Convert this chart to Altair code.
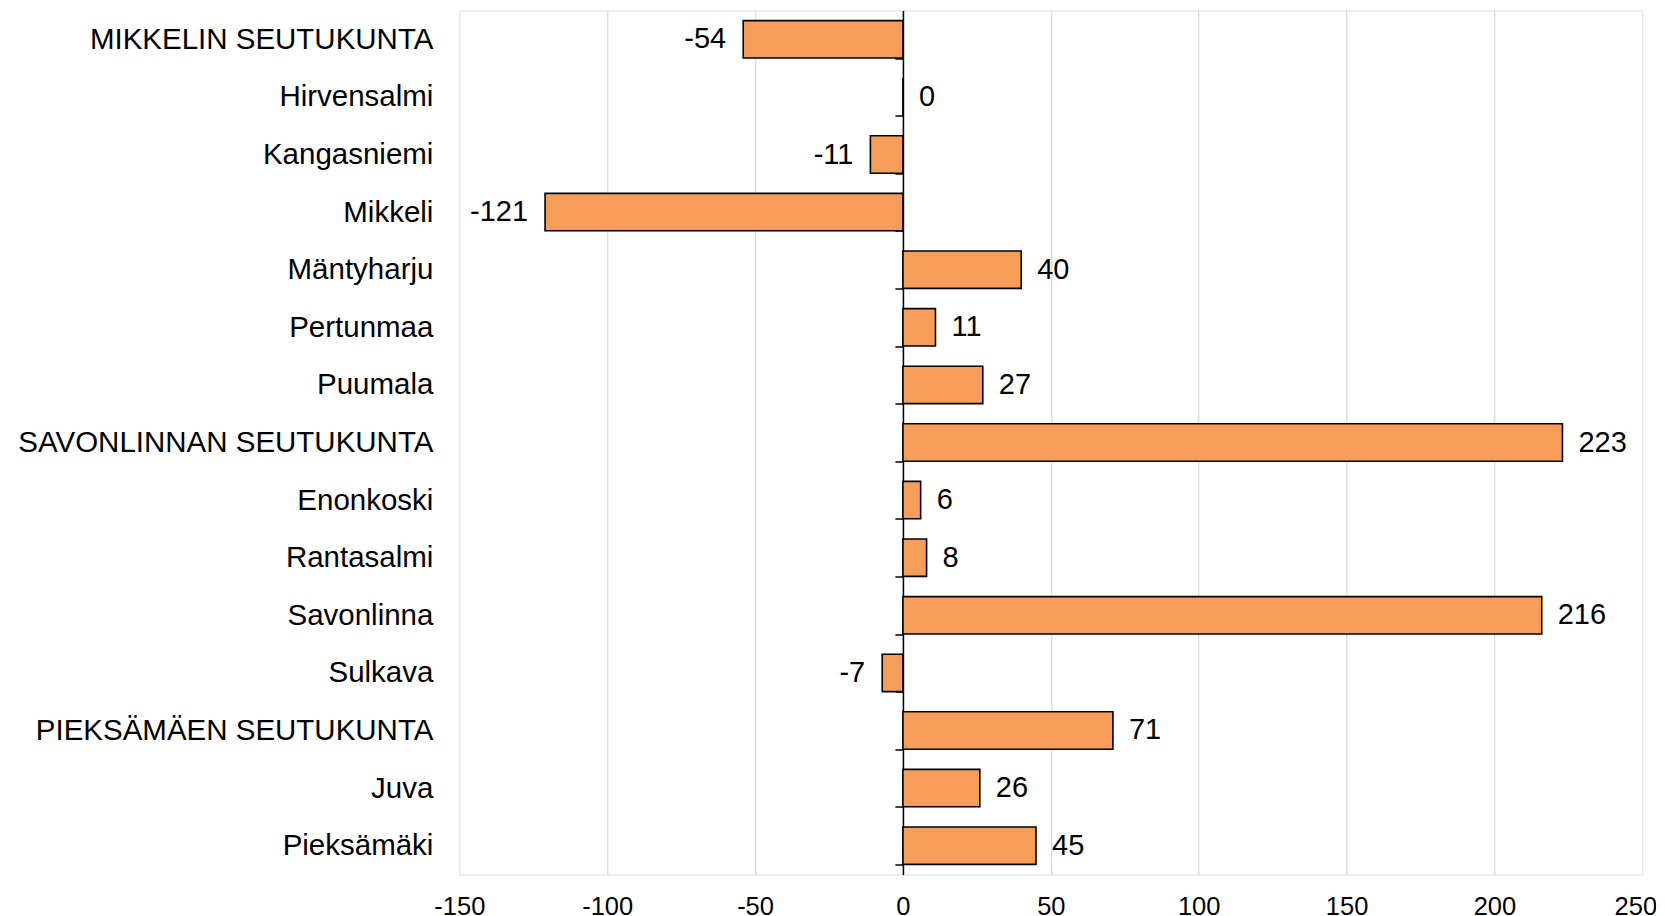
import altair as alt
import pandas as pd

categories = [
    "MIKKELIN SEUTUKUNTA", "Hirvensalmi", "Kangasniemi", "Mikkeli", "Mäntyharju",
    "Pertunmaa", "Puumala", "SAVONLINNAN SEUTUKUNTA", "Enonkoski", "Rantasalmi",
    "Savonlinna", "Sulkava", "PIEKSÄMÄEN SEUTUKUNTA", "Juva", "Pieksämäki",
]
values = [-54, 0, -11, -121, 40, 11, 27, 223, 6, 8, 216, -7, 71, 26, 45]
x_ticks = [-150, -100, -50, 0, 50, 100, 150, 200, 250]
grid_ticks = [-100, -50, 0, 50, 100, 150, 200]

df = pd.DataFrame({"alue": categories, "arvo": values})

FONT = "Liberation Sans"
FS_Y = 29.5
FS = 29
FS_X = 25.5

W = 1183
H = 864
X0 = 443.6  # pixel distance from left frame to zero

y_enc = alt.Y(
    "alue:N",
    sort=categories,
    title=None,
    scale=alt.Scale(paddingInner=0.35, paddingOuter=0.175),
    axis=alt.Axis(
        orient="left",
        offset=-X0,
        domain=True,
        domainColor="#000000",
        domainWidth=1.5,
        ticks=True,
        tickBand="extent",
        tickColor="#000000",
        tickWidth=1.5,
        tickSize=8,
        labelPadding=462,
        labelFont=FONT,
        labelFontSize=FS_Y,
        labelColor="#000000",
        labelLimit=0,
        grid=False,
    ),
)

x_scale = alt.Scale(domain=[-150, 250], nice=False, zero=False)

x_axis_labels = alt.Axis(
    orient="bottom",
    values=x_ticks,
    grid=False,
    domain=False,
    ticks=False,
    labelPadding=20,
    labelFont=FONT,
    labelFontSize=FS_X,
    labelColor="#000000",
    labelFlush=False,
    labelOffset={"condition": {"test": "datum.value === 250", "value": -7}, "value": 0},
    labelExpr="'' + datum.value",
    title=None,
)

x_axis_grid = alt.Axis(
    orient="top",
    values=grid_ticks,
    grid=True,
    gridColor="#d0d0d0",
    gridWidth=1,
    domain=False,
    ticks=False,
    labels=False,
    title=None,
)

grid_layer = alt.Chart(df).mark_bar(opacity=0).encode(
    x=alt.X("arvo:Q", scale=x_scale, axis=x_axis_grid),
    y=alt.Y("alue:N", sort=categories),
)

bars = alt.Chart(df).mark_bar(
    color="#F79D5A", stroke="#000000", strokeWidth=1.6
).encode(
    x=alt.X("arvo:Q", scale=x_scale, axis=x_axis_labels),
    y=y_enc,
)

pos_labels = alt.Chart(df).transform_filter("datum.arvo >= 0").transform_calculate(
    lbl="'' + datum.arvo"
).mark_text(
    align="left", baseline="middle", dx=16, font=FONT, fontSize=FS, color="#000000"
).encode(
    x=alt.X("arvo:Q", scale=x_scale, axis=None),
    y=alt.Y("alue:N", sort=categories),
    text=alt.Text("lbl:N"),
)

neg_labels = alt.Chart(df).transform_filter("datum.arvo < 0").transform_calculate(
    lbl="'' + datum.arvo"
).mark_text(
    align="right", baseline="middle", dx=-17, font=FONT, fontSize=FS, color="#000000"
).encode(
    x=alt.X("arvo:Q", scale=x_scale, axis=None),
    y=alt.Y("alue:N", sort=categories),
    text=alt.Text("lbl:N"),
)

chart = alt.layer(grid_layer, bars, pos_labels, neg_labels).resolve_axis(
    x="independent"
).properties(
    width=W,
    height=H,
    autosize=alt.AutoSizeParams(type="none"),
    padding={"left": 451.3, "top": 2.5, "right": 14, "bottom": 40},
).configure_view(
    stroke="#868686", strokeWidth=2
).configure(background="#ffffff")

chart.save("out.html", embed_options={"renderer": "svg", "actions": False})
